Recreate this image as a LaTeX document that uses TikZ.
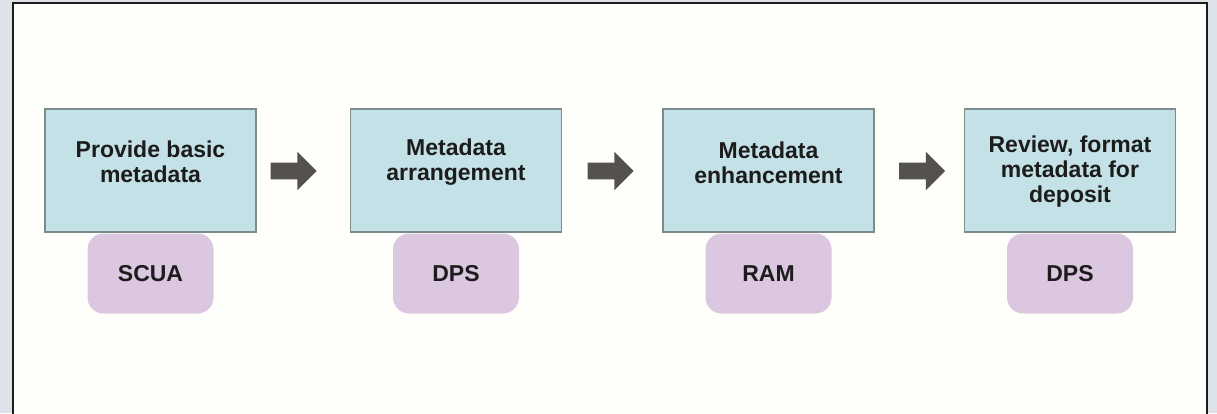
\documentclass[tikz,border=0pt]{standalone}
\usepackage{fontspec}
\setmainfont{Liberation Sans}
\usetikzlibrary{shapes.arrows}
\definecolor{pagebg}{HTML}{DEE3E9}
\definecolor{panelbg}{HTML}{FEFEFB}
\definecolor{stepfill}{HTML}{C3E1E6}
\definecolor{stepline}{HTML}{7E8B8B}
\definecolor{ownerfill}{HTML}{DBC7E0}
\definecolor{arrowfill}{HTML}{55524E}
\definecolor{inktext}{HTML}{1C1C1C}

\begin{document}
\begin{tikzpicture}[x=0.5pt,y=-0.5pt,
    stepbox/.style={draw=stepline,fill=stepfill,line width=0.6pt,
      minimum width=105.5pt,minimum height=61.5pt,inner sep=0pt},
    steptext/.style={align=center,text=inktext,inner sep=0pt,
      font=\fontsize{11.5}{12.5}\selectfont\bfseries},
    ownerbox/.style={fill=ownerfill,rounded corners=8pt,
      minimum width=63pt,minimum height=40pt,inner sep=0pt,text=inktext,
      font=\fontsize{11.5}{12.5}\selectfont\bfseries},
    blockarrow/.style={single arrow,fill=arrowfill,draw=none,
      minimum height=23pt,inner sep=4pt,single arrow head extend=5.5pt,
      single arrow tip angle=90}]
  \useasboundingbox[fill=pagebg] (0,0) rectangle (1217,413);
  \draw[fill=panelbg,draw=inktext,line width=1pt] (13,3) rectangle (1207,430);

  \foreach \n/\x/\dy/\txt/\who in {1/150.5/-9/{Provide basic\\metadata}/SCUA,
      2/456/-8/{Metadata\\arrangement}/DPS,
      3/768.5/-8/{Metadata\\enhancement}/RAM,
      4/1070/1/{Review, format\\metadata for\\deposit}/DPS}{
    \node[ownerbox] (o\n) at (\x,273.5) {\who};
    \node[stepbox] (b\n) at (\x,170.5) {};
    \node[steptext] (t\n) at (\x,{170.5+\dy}) {\txt};
  }

  \node[blockarrow] (a1) at (289.5,171) {};
  \node[blockarrow] (a2) at (606.5,171) {};
  \node[blockarrow] (a3) at (918,171) {};
\end{tikzpicture}
\end{document}
